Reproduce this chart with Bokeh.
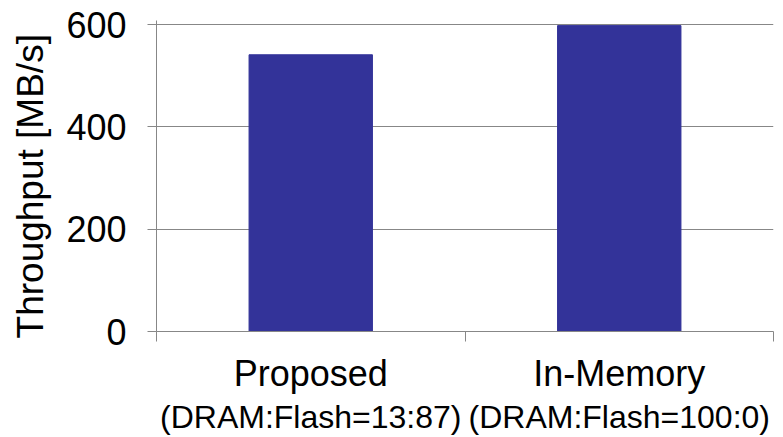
from bokeh.plotting import figure
from bokeh.models import (Range1d, LinearAxis, FixedTicker, ColumnDataSource,
                          CustomJSTickFormatter)
from bokeh.embed import file_html
from bokeh.resources import INLINE

# ---- data ----
systems = ["Proposed", "In-Memory"]
ratios = ["(DRAM:Flash=13:87)", "(DRAM:Flash=100:0)"]
throughput = [541, 598]
y_ticks = [0, 200, 400, 600]
y_label = "Throughput [MB/s]"

FONT = "Liberation Sans"
GRAY = "#878787"

n = len(systems)
centers = [i + 0.5 for i in range(n)]
src = ColumnDataSource(dict(x=centers, system=systems, throughput=throughput))

p = figure(width=783, height=437,
           x_range=Range1d(0, n),
           y_range=Range1d(0, 608),
           output_backend="svg", toolbar_location=None,
           x_axis_location=None, y_axis_location="left",
           min_border_left=156, min_border_right=10,
           min_border_top=20, min_border_bottom=106)
p.outline_line_color = None
p.background_fill_color = "white"
p.border_fill_color = "white"

p.vbar(x="x", top="throughput", width=0.4, source=src,
       fill_color="#333399", line_color="#333399")

# y axis (two no-break spaces nudge the centred title slightly downward)
ya = p.yaxis[0]
ya.ticker = FixedTicker(ticks=y_ticks)
ya.minor_tick_line_color = None
ya.major_tick_in = 0
ya.major_tick_out = 9
ya.axis_line_color = GRAY
ya.major_tick_line_color = GRAY
ya.major_label_text_font = FONT
ya.major_label_text_font_size = "36px"
ya.major_label_text_color = "black"
ya.major_label_standoff = 21
ya.axis_label = y_label + "\u00a0\u00a0"
ya.axis_label_text_font = FONT
ya.axis_label_text_font_size = "37px"
ya.axis_label_text_font_style = "normal"
ya.axis_label_text_color = "black"
ya.axis_label_standoff = 12

p.ygrid.ticker = FixedTicker(ticks=y_ticks[1:])
p.ygrid.grid_line_color = GRAY
p.ygrid.grid_line_width = 1.2
p.xgrid.visible = False

# x axes: boundary ticks, then two label rows
edge_axis = LinearAxis(ticker=FixedTicker(ticks=list(range(n + 1))),
                       major_tick_in=0, major_tick_out=10,
                       minor_tick_line_color=None,
                       axis_line_color=GRAY, major_tick_line_color=GRAY,
                       major_label_text_font_size="0px",
                       major_label_text_color=None,
                       major_label_standoff=0)


def label_axis(labels, size, standoff):
    return LinearAxis(ticker=FixedTicker(ticks=centers),
                      formatter=CustomJSTickFormatter(
                          args=dict(labels=labels),
                          code="return labels[Math.round(tick - 0.5)];"),
                      axis_line_color=None, major_tick_line_color=None,
                      minor_tick_line_color=None,
                      major_tick_in=0, major_tick_out=0,
                      major_label_standoff=standoff,
                      major_label_text_font=FONT,
                      major_label_text_font_size=size,
                      major_label_text_color="black")


p.add_layout(edge_axis, "below")
p.add_layout(label_axis(systems, "36px", 11), "below")
p.add_layout(label_axis(ratios, "32px", 2), "below")

open("out.html", "w").write(file_html(p, INLINE))
